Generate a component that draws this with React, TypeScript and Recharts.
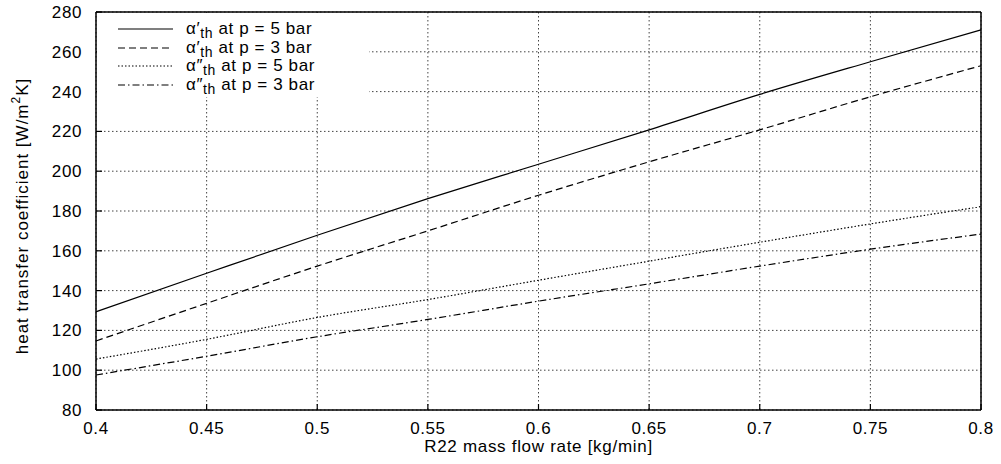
import React from "react";
import {
  LineChart,
  Line,
  XAxis,
  YAxis,
  CartesianGrid,
  Legend,
} from "recharts";

// R22 mass flow rate [kg/min]
const flowRates = [0.4, 0.45, 0.5, 0.55, 0.6, 0.65, 0.7, 0.75, 0.8];
const xTickLabels = ["0.4", "0.45", "0.5", "0.55", "0.6", "0.65", "0.7", "0.75", "0.8"];
const yTicks = [80, 100, 120, 140, 160, 180, 200, 220, 240, 260, 280];

// heat transfer coefficient [W/m2K]
const alpha1At5 = [129.4, 148.7, 167.8, 186.2, 203.5, 220.8, 238.6, 255.0, 271.0];
const alpha1At3 = [114.7, 133.6, 152.3, 170.0, 187.9, 204.7, 220.8, 237.4, 253.0];
const alpha2At5 = [105.6, 115.5, 126.5, 135.5, 145.2, 154.8, 164.3, 173.5, 182.2];
const alpha2At3 = [97.6, 107.0, 116.8, 125.5, 134.7, 143.4, 152.3, 160.8, 168.4];

const series = [
  { key: "a1p5", values: alpha1At5, prime: "\u2032", pressure: "5", dash: undefined },
  { key: "a1p3", values: alpha1At3, prime: "\u2032", pressure: "3", dash: "7 4" },
  { key: "a2p5", values: alpha2At5, prime: "\u2033", pressure: "5", dash: "1.5 2" },
  { key: "a2p3", values: alpha2At3, prime: "\u2033", pressure: "3", dash: "7 3 1.5 3" },
];

const data = flowRates.map((x, i) => {
  const row: Record<string, number> = { x };
  series.forEach((s) => (row[s.key] = s.values[i]));
  return row;
});

const FONT = "'Liberation Sans', Arial, Helvetica, sans-serif";

const LegendBox = () => (
  <div
    style={{
      background: "#fff",
      fontFamily: FONT,
      fontSize: 17,
      letterSpacing: 0.6,
      color: "#000",
      paddingTop: 7,
      paddingLeft: 21,
    }}
  >
    {series.map((s) => (
      <div key={s.key} style={{ display: "flex", alignItems: "center", height: 18.5 }}>
        <svg width={56} height={6} style={{ marginRight: 12 }}>
          <line x1={0} y1={3} x2={55} y2={3} stroke="#000" strokeWidth={1.2} strokeDasharray={s.dash} />
        </svg>
        <span style={{ lineHeight: "16px" }}>
          α{s.prime}
          <sub style={{ fontSize: 14, verticalAlign: "-4px", lineHeight: 0 }}>th</sub> at p = {s.pressure} bar
        </span>
      </div>
    ))}
  </div>
);

const YLabel = (props: any) => {
  const vb = props.viewBox || { x: 0, y: 12, width: 96, height: 398 };
  const cx = vb.x + 22;
  const cy = vb.y + vb.height / 2 + 5;
  return (
    <text
      x={cx}
      y={cy}
      transform={`rotate(-90 ${cx} ${cy})`}
      textAnchor="middle"
      dominantBaseline="central"
      fontSize={17}
      letterSpacing={1}
      fontFamily={FONT}
      fill="#000"
    >
      heat transfer coefficient [W/m
      <tspan dy={-6} fontSize={12}>2</tspan>
      <tspan dy={6}>K]</tspan>
    </text>
  );
};

export default function App() {
  const tickStyle = { fill: "#000", fontSize: 17, fontFamily: FONT, letterSpacing: 0.6 };
  return (
    <div style={{ position: "absolute", left: 0, top: 0 }}>
      <LineChart
        width={1001}
        height={464}
        data={data}
        margin={{ top: 0, right: 0, bottom: 0, left: 0 }}
        style={{ fontFamily: FONT, background: "#fff" }}
      >
        <CartesianGrid
          xAxisId="bottom"
          yAxisId="left"
          stroke="#444"
          strokeDasharray="1.5 2.5"
          strokeWidth={1}
        />
        <XAxis
          xAxisId="bottom"
          dataKey="x"
          type="number"
          domain={[0.4, 0.8]}
          ticks={flowRates}
          tickFormatter={(v: number) => xTickLabels[flowRates.indexOf(v)] ?? String(v)}
          height={54}
          tick={tickStyle}
          tickSize={-6}
          tickMargin={18}
          stroke="#000"
          axisLine={{ stroke: "#000", strokeWidth: 1.5 }}
          tickLine={{ stroke: "#000", strokeWidth: 1.2 }}
          label={{
            value: "R22 mass flow rate [kg/min]",
            position: "insideBottom",
            offset: 12,
            fill: "#000",
            fontSize: 17,
            letterSpacing: 0.7,
            fontFamily: FONT,
          }}
        />
        <XAxis
          xAxisId="top"
          orientation="top"
          dataKey="x"
          type="number"
          domain={[0.4, 0.8]}
          ticks={flowRates}
          height={12}
          tick={false}
          tickSize={-6}
          axisLine={{ stroke: "#000", strokeWidth: 1.5 }}
          tickLine={{ stroke: "#000", strokeWidth: 1.2 }}
        />
        <YAxis
          yAxisId="left"
          type="number"
          domain={[80, 280]}
          ticks={yTicks}
          width={96}
          tick={tickStyle}
          tickSize={-6}
          tickMargin={20}
          axisLine={{ stroke: "#000", strokeWidth: 1.5 }}
          tickLine={{ stroke: "#000", strokeWidth: 1.2 }}
          label={<YLabel />}
        />
        <YAxis
          yAxisId="right"
          orientation="right"
          type="number"
          domain={[80, 280]}
          ticks={yTicks}
          width={20}
          tick={false}
          tickSize={-6}
          axisLine={{ stroke: "#000", strokeWidth: 1.5 }}
          tickLine={{ stroke: "#000", strokeWidth: 1.2 }}
        />
        <Legend
          content={<LegendBox />}
          layout="horizontal"
          align="center"
          verticalAlign="middle"
          wrapperStyle={{ left: 97, top: 13, width: 272, height: 84, background: "#fff" }}
        />
        {series.map((s) => (
          <Line
            key={s.key}
            xAxisId="bottom"
            yAxisId="left"
            type="monotone"
            dataKey={s.key}
            stroke="#000"
            strokeWidth={1.2}
            strokeDasharray={s.dash}
            dot={false}
            activeDot={false}
            isAnimationActive={false}
          />
        ))}
      </LineChart>
    </div>
  );
}
